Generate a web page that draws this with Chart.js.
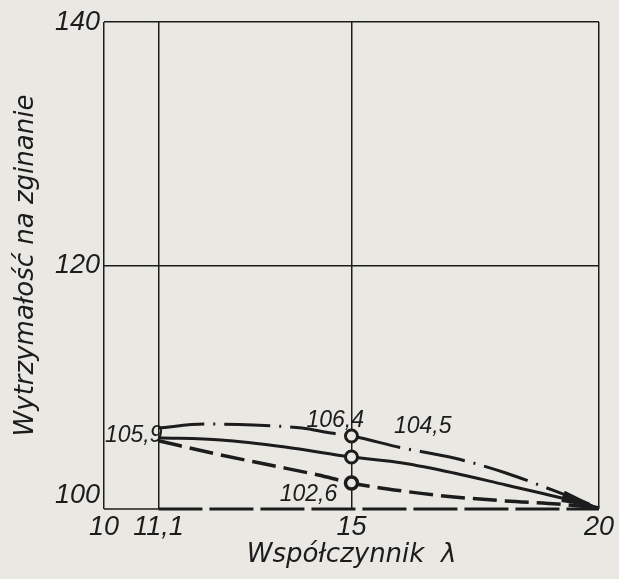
<!DOCTYPE html>
<html>
<head>
<meta charset="utf-8">
<script src="https://cdn.jsdelivr.net/npm/chart.js@4.4.1/dist/chart.umd.min.js"></script>
<style>
  html, body { margin: 0; padding: 0; background: #e9e8e3; }
  #wrap { width: 619px; height: 579px; }
</style>
</head>
<body>
<div id="wrap"><canvas id="chart" width="619" height="579"></canvas></div>
<script>
  // --- Data ---
  const xTicks = [10, 11.1, 15, 20];
  const yTicks = [100, 120, 140];

  // dash-dot curve (upper)
  const dashDotX = [11.1, 12.03, 13.02, 14.0, 14.59, 15, 16.03, 17.07, 18.12, 19.16, 20];
  const dashDotY = [106.65, 106.98, 106.9, 106.65, 106.24, 106.0, 105.01, 104.19, 102.96, 101.4, 100.1];

  // solid curve (middle)
  const solidX = [11.1, 12.36, 13.66, 15, 16.03, 17.07, 18.12, 19.16, 20];
  const solidY = [105.85, 105.67, 105.09, 104.27, 103.78, 102.96, 101.97, 100.99, 100.1];

  // dashed curve (lower)
  const dashedX = [11.1, 12.36, 13.35, 14.33, 15, 16.03, 17.07, 18.12, 19.16, 20];
  const dashedY = [105.6, 104.44, 103.61, 102.79, 102.14, 101.48, 100.99, 100.66, 100.41, 100.1];

  // base line at 100
  const baseX = [11.1, 20];
  const baseY = [100, 100];

  // values written on the chart
  const noteText = ['105,9', '106,4', '104,5', '102,6'];
  const noteX = [10.6, 14.67, 16.44, 14.13];
  const noteY = [106.0, 107.23, 106.73, 101.15];

  // --- Styles ---
  const ink = '#1c1c1c';
  const paper = '#e9e8e3';
  const tickFont = { family: "'Liberation Sans', sans-serif", style: 'italic', size: 27, lineHeight: 1 };
  const titleFont = { family: "'DejaVu Sans', sans-serif", style: 'italic', size: 26, lineHeight: 1.2 };

  function toPoints(xs, ys) {
    return xs.map((x, i) => ({ x: x, y: ys[i] }));
  }

  function fmt(v) {
    return String(v).replace('.', ',');
  }

  // open circles only at lambda = 15
  function circleRadius(ctx) {
    return ctx.raw && ctx.raw.x === 15 ? 6 : 0;
  }

  // --- Plugins ---
  // arrow heads at the end of the upper two curves
  const arrowPlugin = {
    id: 'arrowHeads',
    afterDatasetsDraw(chart) {
      const c = chart.ctx;
      chart.data.datasets.forEach((ds, i) => {
        if (!ds.arrow) return;
        const pts = chart.getDatasetMeta(i).data;
        const tip = pts[pts.length - 1];
        const prev = pts[pts.length - 2];
        const ang = Math.atan2(tip.y - prev.y, tip.x - prev.x);
        const len = 38, half = 3.8;
        c.save();
        c.fillStyle = ink;
        c.beginPath();
        c.moveTo(tip.x, tip.y);
        c.lineTo(tip.x - len * Math.cos(ang) + half * Math.sin(ang), tip.y - len * Math.sin(ang) - half * Math.cos(ang));
        c.lineTo(tip.x - len * Math.cos(ang) - half * Math.sin(ang), tip.y - len * Math.sin(ang) + half * Math.cos(ang));
        c.closePath();
        c.fill();
        c.restore();
      });
    }
  };

  // numbers written next to the curves
  const notePlugin = {
    id: 'notes',
    afterDraw(chart) {
      const c = chart.ctx;
      const xs = chart.scales.x, ys = chart.scales.y;
      c.save();
      c.fillStyle = ink;
      c.font = "italic 23px 'Liberation Sans', sans-serif";
      c.textAlign = 'center';
      c.textBaseline = 'middle';
      noteText.forEach((t, i) => {
        c.fillText(t, xs.getPixelForValue(noteX[i]), ys.getPixelForValue(noteY[i]));
      });
      c.restore();
    }
  };

  // --- Chart ---
  const chart = new Chart(document.getElementById('chart'), {
    type: 'line',
    data: {
      datasets: [
        {
          label: 'frame',
          data: [{ x: 10, y: 100 }, { x: 11.1, y: 100 }],
          borderColor: ink,
          borderWidth: 1.5,
          pointRadius: 0
        },
        {
          label: 'base',
          data: toPoints(baseX, baseY),
          borderColor: ink,
          borderWidth: 3,
          borderDash: [44, 7],
          pointRadius: 0
        },
        {
          label: 'dash-dot',
          data: toPoints(dashDotX, dashDotY),
          borderColor: ink,
          borderWidth: 3,
          borderDash: [46, 9, 2, 9],
          cubicInterpolationMode: 'monotone',
          arrow: true
        },
        {
          label: 'solid',
          data: toPoints(solidX, solidY),
          borderColor: ink,
          borderWidth: 3,
          cubicInterpolationMode: 'monotone',
          arrow: true
        },
        {
          label: 'dashed',
          data: toPoints(dashedX, dashedY),
          borderColor: ink,
          borderWidth: 3.5,
          borderDash: [24, 8],
          cubicInterpolationMode: 'monotone'
        }
      ]
    },
    options: {
      responsive: false,
      animation: false,
      parsing: false,
      layout: { padding: { top: 22, right: 19, left: 0, bottom: 0 } },
      elements: {
        point: {
          radius: circleRadius,
          hoverRadius: circleRadius,
          backgroundColor: paper,
          borderColor: ink,
          borderWidth: 1.6
        },
        line: { fill: false }
      },
      datasets: { line: { clip: false } },
      plugins: { legend: { display: false }, tooltip: { enabled: false } },
      scales: {
        x: {
          type: 'linear',
          min: 10,
          max: 20,
          afterBuildTicks: s => { s.ticks = xTicks.map(v => ({ value: v })); },
          afterFit: s => { s.height = 70; },
          border: { display: false },
          grid: { color: ink, lineWidth: 1.5, drawTicks: false },
          ticks: {
            color: ink,
            font: tickFont,
            padding: 5,
            maxRotation: 0,
            autoSkip: false,
            callback: v => fmt(v)
          },
          title: {
            display: true,
            text: 'Współczynnik  λ',
            color: ink,
            font: titleFont,
            padding: { top: 0, bottom: 8 }
          }
        },
        y: {
          type: 'linear',
          min: 100,
          max: 140,
          afterBuildTicks: s => { s.ticks = yTicks.map(v => ({ value: v })); },
          afterFit: s => { s.width = 104; },
          border: { display: false },
          grid: {
            color: ctx => (ctx.tick && ctx.tick.value === 100 ? 'rgba(0,0,0,0)' : ink),
            lineWidth: 1.5,
            drawTicks: false
          },
          ticks: {
            color: ink,
            font: tickFont,
            padding: 4,
            callback: v => (v === 100 ? ['100', ''] : fmt(v))
          },
          title: {
            display: true,
            text: 'Wytrzymałość na zginanie',
            color: ink,
            font: titleFont,
            padding: { top: 11, bottom: 0 }
          }
        }
      }
    },
    plugins: [arrowPlugin, notePlugin]
  });
</script>
</body>
</html>
